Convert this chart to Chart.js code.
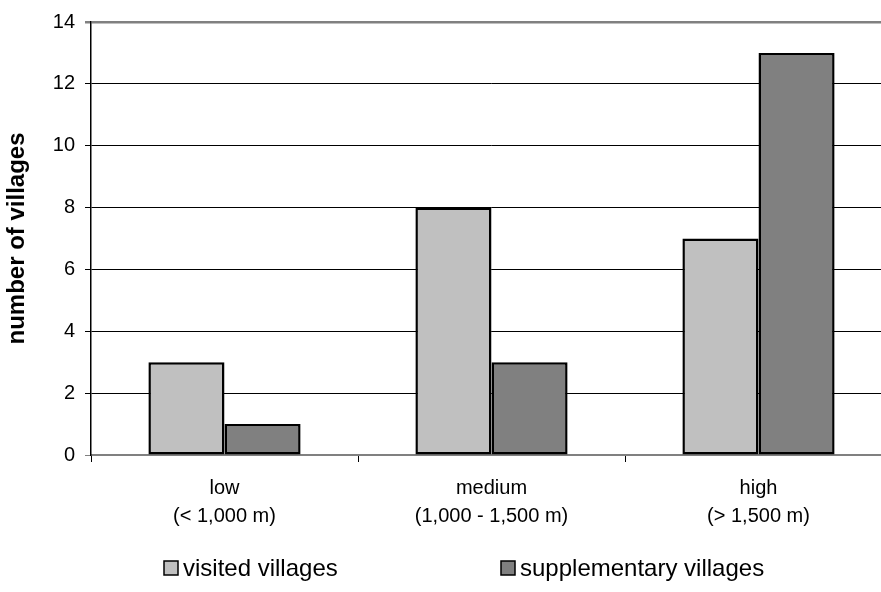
<!DOCTYPE html>
<html>
<head>
<meta charset="utf-8">
<script src="https://cdn.jsdelivr.net/npm/chart.js@4.4.0/dist/chart.umd.min.js"></script>
<style>
 html,body{margin:0;padding:0;background:#fff;overflow:hidden}
 #wrap{width:900px;height:592px;position:relative}
</style>
</head>
<body>
<div id="wrap"><canvas id="c"></canvas></div>
<script>
// data
const categories=[['low','(< 1,000 m)'],['medium','(1,000 - 1,500 m)'],['high','(> 1,500 m)']];
const seriesNames=['visited villages','supplementary villages'];
const visited=[3,8,7];
const supplementary=[1,3,13];
const yMin=0, yMax=14, yStep=2;
const yTitle='number of villages';

(function(){
 const fills=['#c0c0c0','#808080'];
 const font='"Liberation Sans", Arial, sans-serif';

 // legend drawn by hand so the wide gap between the two items can be kept
 const legendPlugin={
   id:'wideLegend',
   afterDraw(chart){
     const ctx=chart.ctx, xs=[164,501], y=568, box=14;
     ctx.save();
     ctx.font='24px '+font; ctx.textBaseline='middle';
     chart.data.datasets.forEach((ds,i)=>{
       ctx.fillStyle=ds.backgroundColor; ctx.fillRect(xs[i],y-box/2,box,box);
       ctx.lineWidth=1.5; ctx.strokeStyle='#000'; ctx.strokeRect(xs[i],y-box/2,box,box);
       ctx.fillStyle='#000'; ctx.fillText(ds.label,xs[i]+box+5,y+1);
     });
     ctx.restore();
   }
 };

 new Chart(document.getElementById('c'),{
   type:'bar',
   data:{labels:categories,datasets:[
     {label:seriesNames[0],data:visited,backgroundColor:fills[0]},
     {label:seriesNames[1],data:supplementary,backgroundColor:fills[1]}
   ]},
   options:{
     responsive:true,maintainAspectRatio:false,animation:false,
     layout:{padding:{top:20,left:0,right:8,bottom:0}},
     datasets:{bar:{borderColor:'#000',borderWidth:2.5,borderSkipped:false,categoryPercentage:0.57,barPercentage:1}},
     plugins:{legend:{display:false},tooltip:{enabled:false}},
     scales:{
       x:{
         grid:{display:true,drawOnChartArea:false,offset:true,tickLength:7,color:'#000',lineWidth:1},
         border:{color:'#808080',width:2},
         ticks:{color:'#000',padding:12,font:{family:font,size:20,lineHeight:1.4}},
         afterFit:s=>{s.height=137}
       },
       y:{
         min:yMin,max:yMax,
         ticks:{stepSize:yStep,color:'#000',padding:10,font:{family:font,size:20}},
         grid:{tickLength:6,
           color:c=>(c.tick&&(c.tick.value===yMax||c.tick.value===yMin))?'#808080':'#000',
           lineWidth:c=>(c.tick&&c.tick.value===yMax)?2.5:1},
         border:{color:'#000',width:1.5},
         title:{display:true,text:yTitle,color:'#000',padding:{top:3,bottom:0},font:{family:font,size:24,weight:'bold'}},
         afterFit:s=>{s.width=91}
       }
     }
   },
   plugins:[legendPlugin]
 });
})();
</script>
</body>
</html>
